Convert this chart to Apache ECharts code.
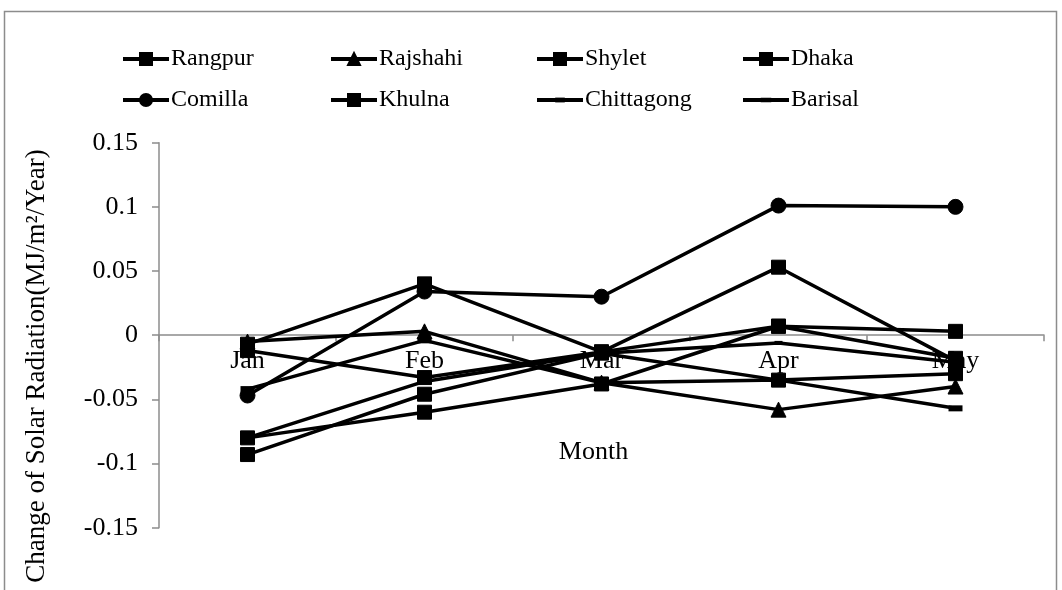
<!DOCTYPE html>
<html>
<head>
<meta charset="utf-8">
<title>Change of Solar Radiation</title>
<script src="https://cdn.jsdelivr.net/npm/echarts@6/dist/echarts.min.js"></script>
<style>
  html, body { margin: 0; padding: 0; background: #fff; }
  #chart { width: 1062px; height: 590px; }
</style>
</head>
<body>
<div id="chart"></div>
<script>
// Months on the category axis
const months = ['Jan', 'Feb', 'Mar', 'Apr', 'May'];

// Trend of solar radiation per station (MJ/m²/Year)
const rangpur    = [-0.007,  0.040, -0.013,  0.053, -0.020];
const rajshahi   = [-0.005,  0.003, -0.037, -0.058, -0.040];
const shylet     = [-0.012, -0.033, -0.013,  0.007,  0.003];
const dhaka      = [-0.093, -0.046, -0.014, -0.035, -0.030];
const comilla    = [-0.047,  0.034,  0.030,  0.101,  0.100];
const khulna     = [-0.080, -0.060, -0.038,  0.007, -0.018];
const chittagong = [-0.080, -0.036, -0.014, -0.006, -0.021];
const barisal    = [-0.042, -0.004, -0.037, -0.035, -0.057];

// Value-axis tick labels, bottom to top
const yTickLabels = ['-0.15', '-0.1', '-0.05', '0', '0.05', '0.1', '0.15'];

const FONT = "'Liberation Serif', 'Times New Roman', serif";
const AXIS_GREY = '#8c8c8c';

// Dash markers: the empty moves pad the path to a square box so the
// dash keeps its proportions both on the plot and in the legend.
const SMALL_DASH = 'path://M0,0 M10,10 M1,3 H9 V7 H1 Z';
const WIDE_DASH = 'path://M0,0 M16,16 M1,5 H15 V11 H1 Z';

// Plot box in pixels
const GRID_TOP = 142.7;
const GRID_H = 385;
const Y_MIN = -0.15, Y_MAX = 0.15;
// Shift the category axis up from the bottom of the grid to the zero line
const zeroShift = GRID_H * (0 - Y_MIN) / (Y_MAX - Y_MIN);

function station(name, data, symbol, symbolSize, border) {
  return {
    name: name,
    type: 'line',
    data: data,
    symbol: symbol,
    symbolSize: symbolSize,
    showAllSymbol: true,
    lineStyle: { color: '#000', width: 3.5 },
    itemStyle: { color: '#000', borderColor: '#000', borderWidth: border },
    emphasis: { disabled: true },
    z: 3
  };
}

const series = [
  station('Rangpur', rangpur, 'rect', 14, 1),
  station('Rajshahi', rajshahi, 'triangle', 15, 1),
  station('Shylet', shylet, 'rect', 14, 1),
  station('Dhaka', dhaka, 'rect', 14, 1),
  station('Comilla', comilla, 'circle', 15, 1),
  station('Khulna', khulna, 'rect', 14, 1),
  station('Chittagong', chittagong, SMALL_DASH, 10, 0),
  station('Barisal', barisal, WIDE_DASH, 16, 0)
];

// Four legend columns, two rows each
const legendCols = [
  ['Rangpur', 'Comilla'],
  ['Rajshahi', 'Khulna'],
  ['Shylet', 'Chittagong'],
  ['Dhaka', 'Barisal']
];
const legendLeft = [116, 324, 530, 736];

const legends = legendCols.map((names, i) => ({
  data: names,
  orient: 'vertical',
  left: legendLeft[i],
  top: 42,
  itemWidth: 46,
  itemHeight: 15,
  itemGap: 17,
  selectedMode: false,
  lineStyle: { width: 4 },
  textStyle: { fontFamily: FONT, fontSize: 24, color: '#000', padding: [0, 0, 0, -3] }
}));

const chart = echarts.init(document.getElementById('chart'), null, { renderer: 'canvas' });

chart.setOption({
  animation: false,
  backgroundColor: '#fff',
  legend: legends,
  grid: {
    left: 159, right: 18, top: GRID_TOP, height: GRID_H,
    containLabel: false,
    outerBoundsMode: 'none'
  },
  xAxis: {
    type: 'category',
    data: months,
    boundaryGap: true,
    position: 'bottom',
    offset: -zeroShift,
    name: 'Month',
    nameLocation: 'middle',
    nameGap: 104,
    nameTextStyle: { fontFamily: FONT, fontSize: 26, color: '#000', padding: [0, 16, 0, 0] },
    axisLine: { onZero: false, lineStyle: { color: AXIS_GREY, width: 1.5 } },
    axisTick: { show: true, length: 6, lineStyle: { color: AXIS_GREY, width: 1.5 } },
    axisLabel: { fontFamily: FONT, fontSize: 26, color: '#000', margin: 13 },
    splitLine: { show: false }
  },
  yAxis: {
    type: 'value',
    min: Y_MIN,
    max: Y_MAX,
    interval: 0.05,
    axisLine: { show: true, lineStyle: { color: AXIS_GREY, width: 1.5 } },
    axisTick: { show: true, length: 7, lineStyle: { color: AXIS_GREY, width: 1.5 } },
    axisLabel: {
      fontFamily: FONT, fontSize: 26, color: '#000', margin: 21,
      formatter: (v, i) => yTickLabels[i]
    },
    splitLine: { show: false }
  },
  graphic: [
    {
      type: 'rect',
      shape: { x: 4.5, y: 11.5, width: 1052, height: 620 },
      style: { fill: 'none', stroke: '#8c8c8c', lineWidth: 1.5 },
      silent: true,
      z: -1
    },
    {
      type: 'text',
      x: 37,
      y: 366,
      rotation: Math.PI / 2,
      style: {
        text: 'Change of Solar Radiation(MJ/m²/Year)',
        fontFamily: FONT,
        fontSize: 27,
        fill: '#000',
        align: 'center',
        verticalAlign: 'middle'
      },
      silent: true
    }
  ],
  series: series
});
</script>
</body>
</html>
